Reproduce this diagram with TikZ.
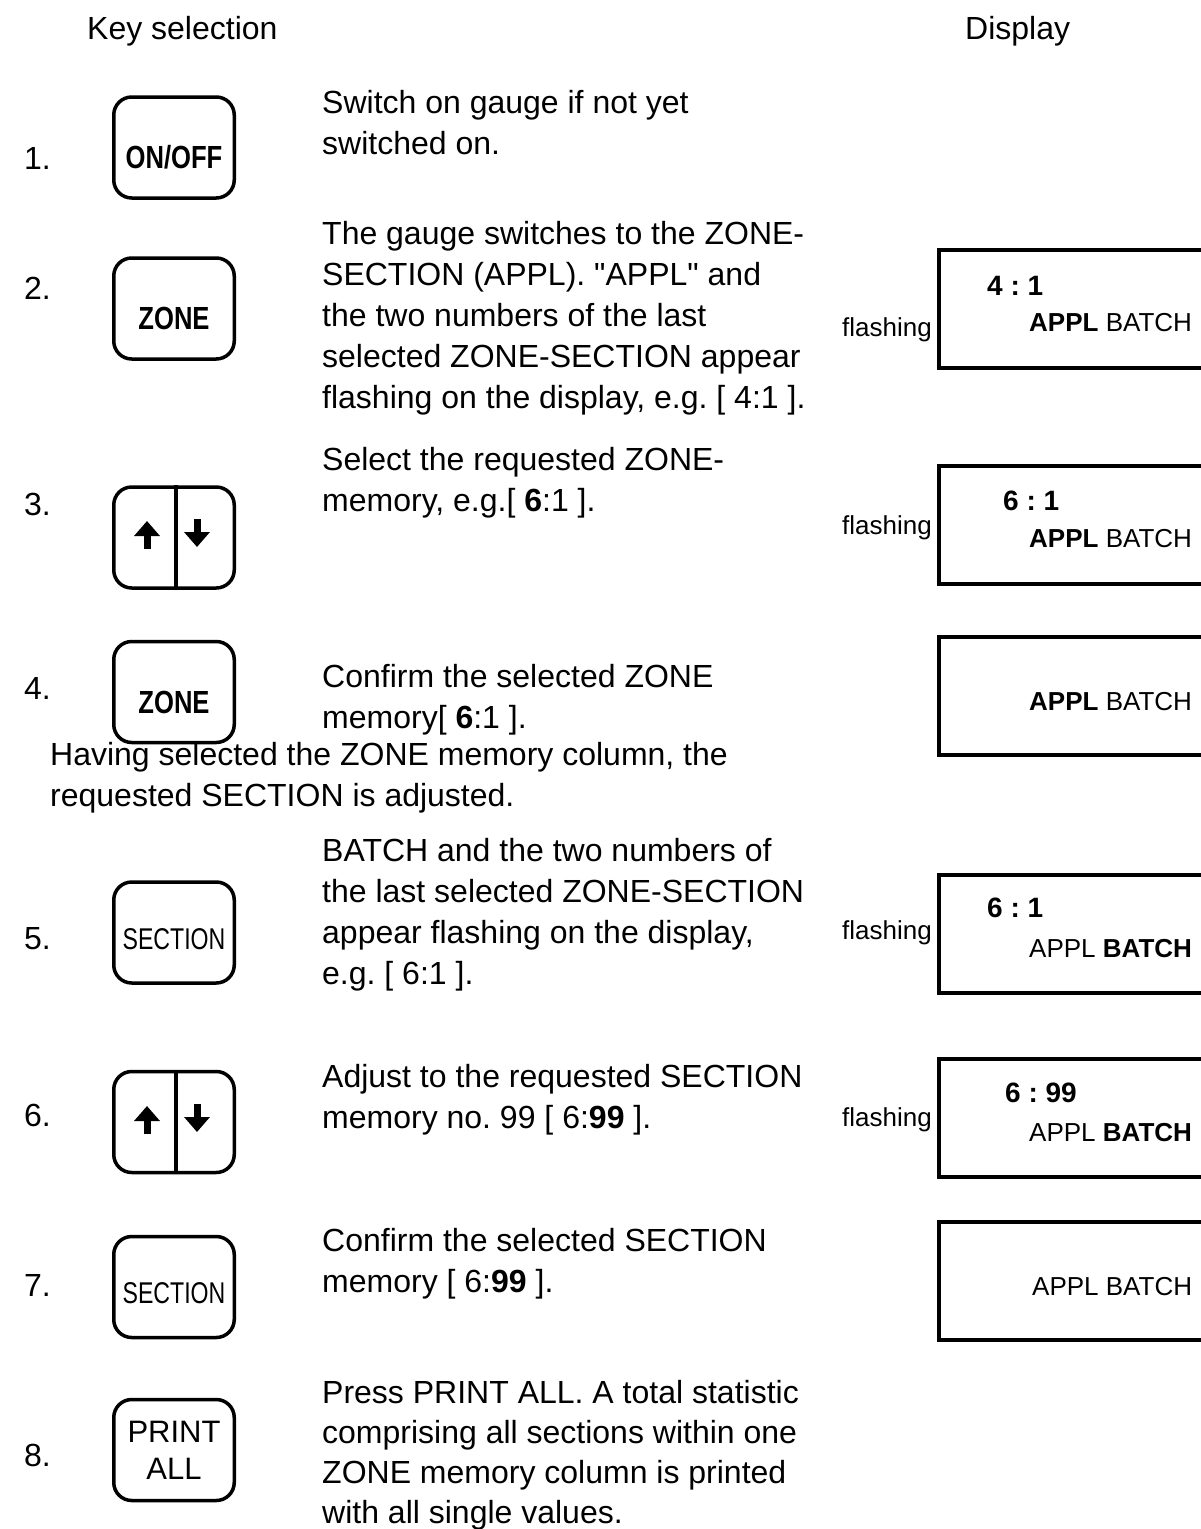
\documentclass[tikz,border=0pt]{standalone}
\usepackage{fontspec}
\setmainfont[Ligatures=TeXOff]{Liberation Sans}
\newfontfamily\keyfont[FakeStretch=0.8]{Liberation Sans}
\newfontfamily\sectfont[FakeStretch=0.77]{Liberation Sans}
\usetikzlibrary{arrows.meta, positioning}
\frenchspacing

\begin{document}
\begin{tikzpicture}[x=1pt, y=-1pt,
  key/.style={rectangle, draw, line width=3.5pt, rounded corners=18pt, minimum width=120.5pt, minimum height=101pt, inner sep=0pt},
  boldkey/.style={key, font=\keyfont\fontsize{32}{36}\selectfont\bfseries, text height=42pt, text depth=0pt},
  sectkey/.style={key, font=\sectfont\fontsize{30}{34}\selectfont, text height=33pt, text depth=0pt},
  disp/.style={rectangle, draw, line width=4pt, minimum width=300pt, minimum height=118pt, anchor=west, inner sep=0pt},
  desc/.style={anchor=base west, align=left, inner sep=0pt, font=\fontsize{32}{41}\selectfont},
  num/.style={anchor=base west, inner sep=0pt, font=\fontsize{32}{38}\selectfont},
  flash/.style={anchor=base east, inner sep=0pt, font=\fontsize{26}{30}\selectfont},
  dnum/.style={anchor=base west, inner sep=0pt, font=\fontsize{28}{32}\selectfont\bfseries},
  dtxt/.style={anchor=base west, inner sep=0pt, font=\fontsize{26}{30}\selectfont},
  arr/.style={line width=7pt, -{Triangle[width=25pt, length=15pt]}}
]
\useasboundingbox (0,0) rectangle (1201,1529);
\clip (0,0) rectangle (1201,1529);

% headers
\node[num] (hkey) at (87,39) {Key selection};
\node[num] (hdisp) at (965,39) {Display};

% step numbers
\node[num] (n1) at (24,169) {1.};
\node[num] (n2) at (24,299) {2.};
\node[num] (n3) at (24,515) {3.};
\node[num] (n4) at (24,699) {4.};
\node[num] (n5) at (24,949) {5.};
\node[num] (n6) at (24,1126) {6.};
\node[num] (n7) at (24,1296) {7.};
\node[num] (n8) at (24,1466) {8.};

% keys
\node[boldkey] (k1) at (174,147.5) {ON/OFF};
\node[boldkey] (k2) at (174,308.5) {ZONE};
\node[key] (k3) at (174,537.5) {};
\node[boldkey] (k4) at (174,692) {ZONE};
\node[sectkey] (k5) at (174,932.5) {SECTION};
\node[key] (k6) at (174,1122) {};
\node[sectkey] (k7) at (174,1287) {SECTION};
\node[key, align=center, font=\fontsize{31}{37}\selectfont] (k8) at (174,1450) {PRINT\\ALL};

% up/down keys
\draw[line width=3.5pt] ([xshift=2pt]k3.north) -- ([xshift=2pt]k3.south);
\coordinate (u3a) at (147,549); \coordinate (u3b) at (147,521);
\coordinate (d3a) at (197,519); \coordinate (d3b) at (197,547);
\draw[arr] (u3a) -- (u3b);
\draw[arr] (d3a) -- (d3b);
\draw[line width=3.5pt] ([xshift=2pt]k6.north) -- ([xshift=2pt]k6.south);
\coordinate (u6a) at (147,1134); \coordinate (u6b) at (147,1106);
\coordinate (d6a) at (197,1104); \coordinate (d6b) at (197,1132);
\draw[arr] (u6a) -- (u6b);
\draw[arr] (d6a) -- (d6b);

% descriptions (anchored at the baseline of the last line)
\node[desc] (t1) at (322,154) {Switch on gauge if not yet\\switched on.};
\node[desc] (t2) at (322,408) {The gauge switches to the ZONE-\\SECTION (APPL). "APPL" and\\the two numbers of the last\\selected ZONE-SECTION appear\\flashing on the display, e.g. [ 4:1 ].};
\node[desc] (t3) at (322,511) {Select the requested ZONE-\\memory, e.g.[ \textbf{6}:1 ].};
\node[desc] (t4) at (322,728) {Confirm the selected ZONE\\memory[ \textbf{6}:1 ].};
\node[desc] (tmid) at (50,806) {Having selected the ZONE memory column, the\\requested SECTION is adjusted.};
\node[desc] (t5) at (322,984) {BATCH and the two numbers of\\the last selected ZONE-SECTION\\appear flashing on the display,\\e.g. [ 6:1 ].};
\node[desc] (t6) at (322,1128) {Adjust to the requested SECTION\\memory no. 99 [ 6:\textbf{99} ].};
\node[desc] (t7) at (322,1292) {Confirm the selected SECTION\\memory [ 6:\textbf{99} ].};
\node[desc, font=\fontsize{32}{40}\selectfont] (t8) at (322,1523) {Press PRINT ALL. A total statistic\\comprising all sections within one\\ZONE memory column is printed\\with all single values.};

% displays
\node[disp] (d2) at (937,309) {};
\node[disp] (d3) at (937,524.5) {};
\node[disp] (d4) at (937,695.5) {};
\node[disp] (d5) at (937,934) {};
\node[disp] (d6) at (937,1117.5) {};
\node[disp] (d7) at (937,1281) {};

\node[flash] (f2) at (932,336) {flashing};
\node[dnum] (v2) at (987,295) {4 : 1};
\node[dtxt] (s2) at (1029,331) {\textbf{APPL} BATCH};

\node[flash] (f3) at (932,534) {flashing};
\node[dnum] (v3) at (1003,510) {6 : 1};
\node[dtxt] (s3) at (1029,547) {\textbf{APPL} BATCH};

\node[dtxt] (s4) at (1029,710) {\textbf{APPL} BATCH};

\node[flash] (f5) at (932,939) {flashing};
\node[dnum] (v5) at (987,917) {6 : 1};
\node[dtxt] (s5) at (1029,957) {APPL \textbf{BATCH}};

\node[flash] (f6) at (932,1126) {flashing};
\node[dnum] (v6) at (1005,1102) {6 : 99};
\node[dtxt] (s6) at (1029,1141) {APPL \textbf{BATCH}};

\node[dtxt] (s7) at (1032,1295) {APPL BATCH};
\end{tikzpicture}
\end{document}
